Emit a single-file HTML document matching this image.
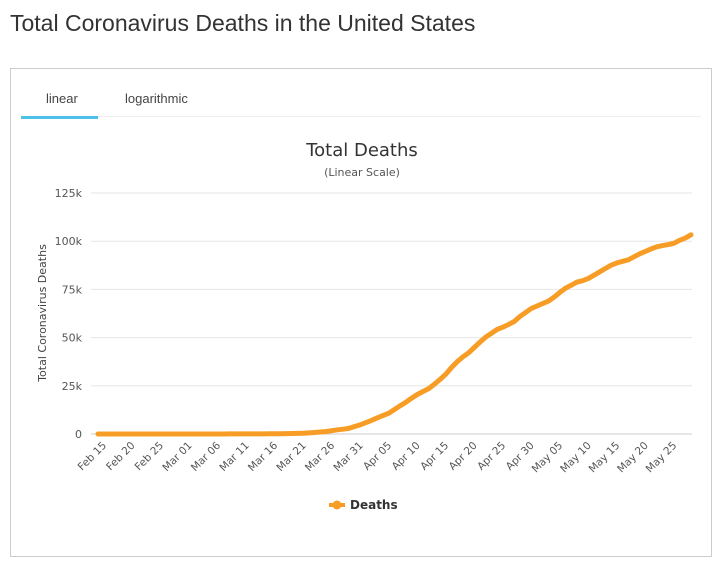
<!DOCTYPE html>
<html><head><meta charset="utf-8"><style>
body{margin:0;width:723px;height:571px;background:#fff;font-family:"Liberation Sans",sans-serif;position:relative;overflow:hidden}
#title{position:absolute;left:10px;top:10px;font-size:23px;color:#333}
#box{position:absolute;left:10px;top:68px;width:702px;height:489px;border:1px solid #ccc;box-sizing:border-box}
.tab{position:absolute;top:91px;font-size:13px;color:#444}
svg{position:absolute;left:0;top:0}
</style></head><body>
<div id="title">Total Coronavirus Deaths in the United States</div>
<div id="box"></div>
<div class="tab" style="left:46px">linear</div>
<div class="tab" style="left:125px">logarithmic</div>
<div style="position:absolute;left:21px;top:116px;width:680px;height:1px;background:#eee"></div>
<div style="position:absolute;left:21px;top:116px;width:77px;height:3px;background:#4fc1e9"></div>
<svg id="chart" width="723" height="571"></svg>
<script>
const yTicks=[0,25000,50000,75000,100000,125000];
const yTickLabels=["0","25k","50k","75k","100k","125k"];
const xTickLabels=["Feb 15","Feb 20","Feb 25","Mar 01","Mar 06","Mar 11","Mar 16","Mar 21","Mar 26","Mar 31","Apr 05","Apr 10","Apr 15","Apr 20","Apr 25","Apr 30","May 05","May 10","May 15","May 20","May 25"];
const deaths=[0,0,0,0,0,0,0,0,0,0,0,0,0,0,1,1,6,9,11,12,15,19,22,26,30,38,41,48,57,68,86,109,150,207,256,302,414,555,780,1027,1295,1695,2191,2509,2929,3873,4757,5926,7087,8407,9619,10783,12722,14695,16478,18586,20463,22020,23529,25832,28326,31000,34500,37500,40000,42094,44845,47676,50243,52217,54256,55413,56803,58355,60966,63006,65068,66385,67682,68920,71022,73431,75670,77180,78795,79528,80682,82376,84119,85898,87530,88754,89562,90347,91921,93439,94702,96007,97087,97720,98220,98916,100442,101617,103300];
const svg=document.getElementById('chart');const NS='http://www.w3.org/2000/svg';
const X0=98,X1=691,Y0=434,Y1=193;
const x=i=>X0+i*(X1-X0)/(deaths.length-1);
const y=v=>Y0-v*(Y0-Y1)/125000;
function mk(t,a,txt){const e=document.createElementNS(NS,t);for(const k in a)e.setAttribute(k,a[k]);if(txt!==undefined)e.textContent=txt;svg.appendChild(e);return e;}
let e;
e=mk('text',{x:362,y:156,'text-anchor':'middle','font-size':18,fill:'#333','font-family':'DejaVu Sans'},'Total Deaths');


e=mk('text',{x:362,y:176,'text-anchor':'middle','font-size':11,fill:'#555','font-family':'DejaVu Sans'},'(Linear Scale)');


e=mk('text',{x:0,y:0,transform:'translate(46,313) rotate(-90)','text-anchor':'middle','font-size':11,fill:'#444','font-family':'DejaVu Sans'},'Total Coronavirus Deaths');


yTicks.forEach((v,i)=>{
 e=mk('line',{x1:91,x2:692,y1:y(v),y2:y(v),stroke:i==0?'#ccc':'#e6e6e6','stroke-width':1});
 
 
 e=mk('text',{x:82,y:y(v)+4,'text-anchor':'end','font-size':11,fill:'#555','font-family':'DejaVu Sans'},yTickLabels[i]);
 
 
});
xTickLabels.forEach((l,i)=>{
 const px=x(i*5);
 e=mk('text',{x:0,y:0,transform:`translate(${px+9},${446}) rotate(-45)`,'text-anchor':'end','font-size':10.5,fill:'#555','font-family':'DejaVu Sans'},l);
 
 
});
const d=deaths.map((v,i)=>(i?'L':'M')+x(i).toFixed(1)+','+y(v).toFixed(1)).join('');
e=mk('path',{d:d,fill:'none',stroke:'#f79d26','stroke-width':5,'stroke-linejoin':'round','stroke-linecap':'round'});


e=mk('line',{x1:329,x2:345,y1:505,y2:505,stroke:'#f79d26','stroke-width':4});


e=mk('circle',{cx:337,cy:505,r:4.5,fill:'#f79d26'});


e=mk('text',{x:350,y:509,'font-size':12,'font-weight':'bold',fill:'#333','font-family':'DejaVu Sans'},'Deaths');


</script>
</body></html>
